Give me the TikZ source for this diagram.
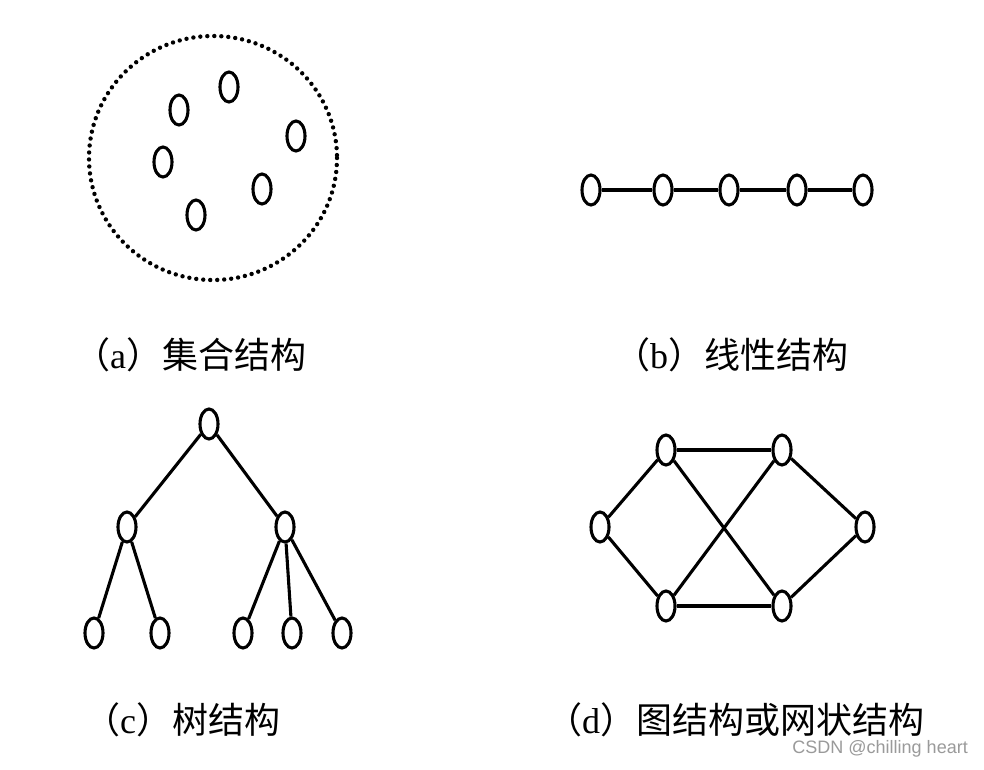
\documentclass[tikz,border=0pt]{standalone}
\usepackage{fontspec}
\setmainfont{Liberation Serif}
\setsansfont{Liberation Sans}
\newfontfamily\cjk{Noto Sans CJK SC}
\usepackage{tikz}
\usetikzlibrary{shapes.geometric}
\definecolor{wmgray}{HTML}{9A9A9A}
\tikzset{
  dsnode/.style={draw=black,ellipse,line width=3.1pt,minimum width=18pt,minimum height=30pt,inner sep=0pt},
  dsedge/.style={draw=black,line width=3.1pt},
  dsset/.style={draw=black,line width=4.4pt,line cap=round,dash pattern=on 0pt off 7pt},
  dslabel/.style={font=\fontsize{36}{40}\selectfont,inner sep=0pt,anchor=west},
  dsmark/.style={font=\fontsize{18}{20}\selectfont\sffamily,text=wmgray,inner sep=0pt,anchor=east}
}
\begin{document}
\begin{tikzpicture}[x=1pt,y=-1pt]
\useasboundingbox[fill=white] (0,0) rectangle (984,769);
% (a) set
\draw[dsset] (213,158) ellipse [x radius=124,y radius=122];
\node[dsnode] (a1) at (229,87) {};
\node[dsnode] (a2) at (179,110) {};
\node[dsnode] (a3) at (296,136) {};
\node[dsnode] (a4) at (163,162) {};
\node[dsnode] (a5) at (262,189) {};
\node[dsnode] (a6) at (196,215) {};
% (b) linear
\node[dsnode] (b1) at (591,190) {};
\node[dsnode] (b2) at (663,190) {};
\node[dsnode] (b3) at (729,190) {};
\node[dsnode] (b4) at (797,190) {};
\node[dsnode] (b5) at (863,190) {};
\foreach \p/\q in {b1/b2,b2/b3,b3/b4,b4/b5}{\draw[dsedge] (\p) -- (\q);}
% (c) tree
\node[dsnode] (r) at (209,424) {};
\node[dsnode] (m1) at (127,527) {};
\node[dsnode] (m2) at (285,527) {};
\node[dsnode] (l1) at (94,633) {};
\node[dsnode] (l2) at (160,633) {};
\node[dsnode] (l3) at (243,633) {};
\node[dsnode] (l4) at (292,633) {};
\node[dsnode] (l5) at (342,633) {};
\foreach \p/\q in {r/m1,r/m2,m1/l1,m1/l2,m2/l3,m2/l4,m2/l5}{\draw[dsedge] (\p) -- (\q);}
% (d) graph
\node[dsnode] (g1) at (600,527) {};
\node[dsnode] (g2) at (666,450) {};
\node[dsnode] (g3) at (782,450) {};
\node[dsnode] (g4) at (865,527) {};
\node[dsnode] (g5) at (666,606) {};
\node[dsnode] (g6) at (782,606) {};
\foreach \p/\q in {g1/g2,g1/g5,g2/g3,g5/g6,g2/g6,g3/g5,g3/g4,g4/g6}{\draw[dsedge] (\p) -- (\q);}
% captions
\node[dslabel] (ta) at (74,355) {{\cjk （}a{\cjk ）集合结构}};
\node[dslabel] (tb) at (614,355) {{\cjk （}b{\cjk ）线性结构}};
\node[dslabel] (tc) at (84,720) {{\cjk （}c{\cjk ）树结构}};
\node[dslabel] (td) at (546,720) {{\cjk （}d{\cjk ）图结构或网状结构}};
\node[dsmark] (wm) at (968,749) {CSDN @chilling heart};
\end{tikzpicture}
\end{document}
